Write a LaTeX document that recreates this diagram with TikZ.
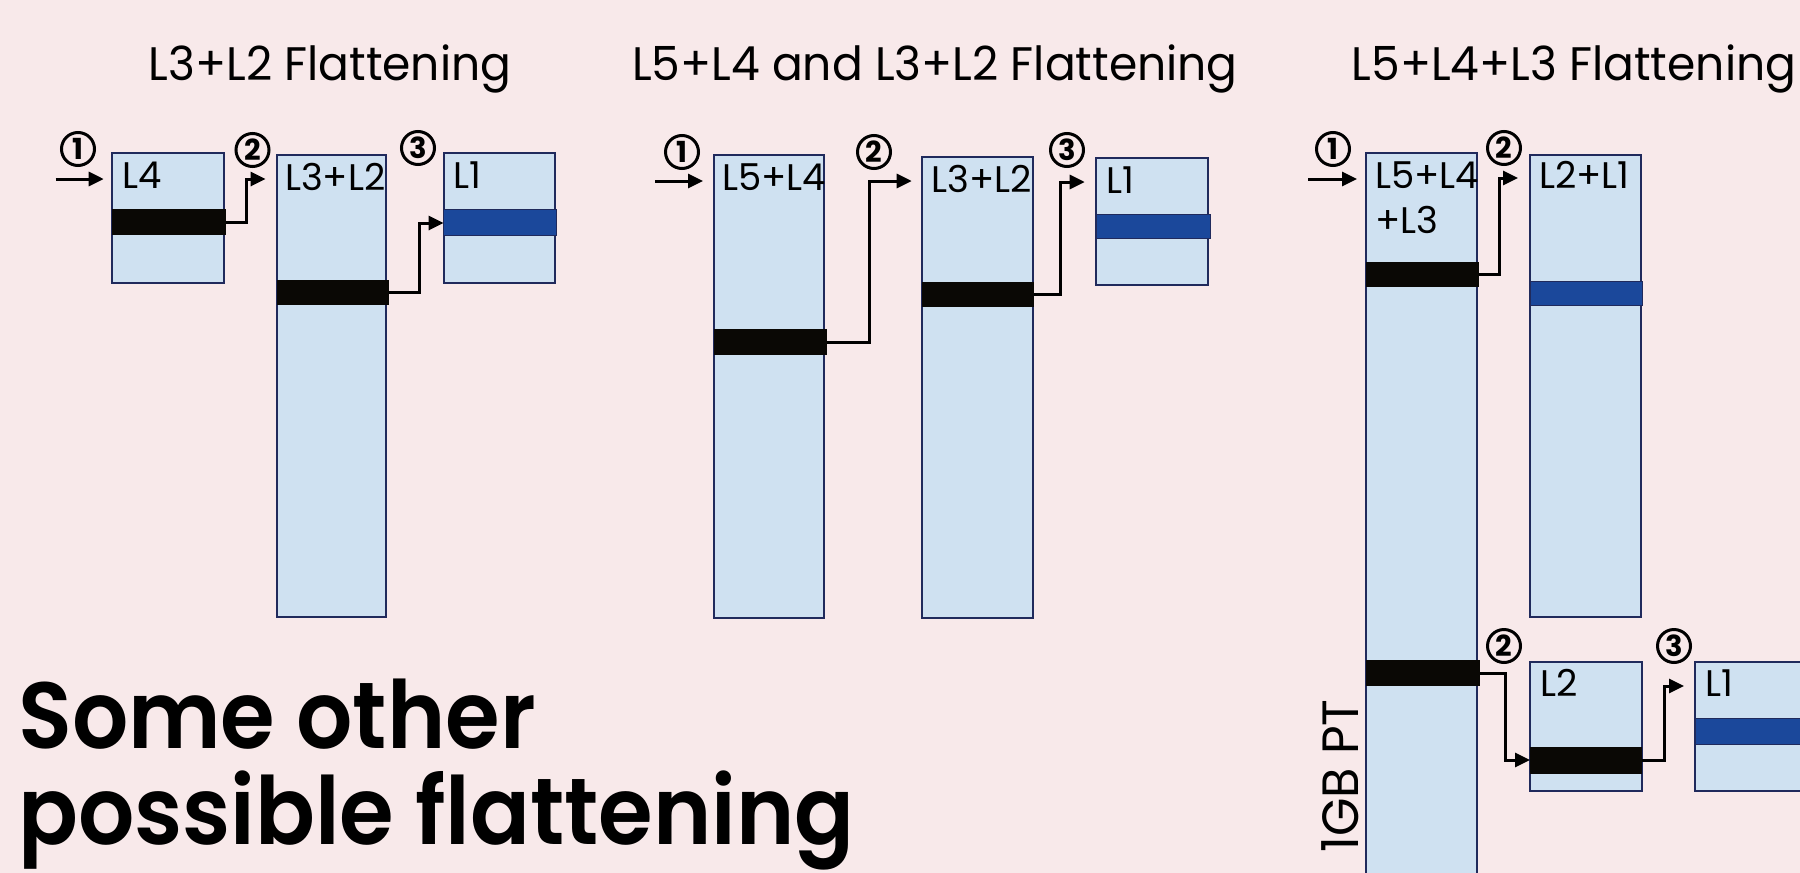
\documentclass[tikz,border=0pt]{standalone}
\usepackage{fontspec}
\setmainfont{Poppins}
\newfontfamily\thinfont{Poppins}
\newfontfamily\headfont[FakeStretch=0.97]{Poppins}
\newfontfamily\capfont[FakeStretch=0.94]{Poppins SemiBold}
\usetikzlibrary{arrows.meta,calc}

\definecolor{bgpink}{RGB}{248,233,234}
\definecolor{tablefill}{RGB}{207,225,241}
\definecolor{tableedge}{RGB}{32,42,92}
\definecolor{entryblue}{RGB}{27,72,155}
\definecolor{entryblack}{RGB}{10,8,5}

\tikzset{
  pagetable/.style={draw=tableedge, fill=tablefill, line width=2pt,
    anchor=north west, inner sep=0pt, outer sep=0pt},
  entrybar/.style={anchor=north west, inner sep=0pt, outer sep=0pt, fill=entryblack},
  leafbar/.style={entrybar, fill=entryblue, draw=tableedge, line width=0.8pt},
  boxtext/.style={anchor=base west, inner sep=0pt, text=black, align=left,
    font=\thinfont\fontsize{37}{45}\selectfont},
  headtext/.style={anchor=base, inner sep=0pt,
    font=\headfont\fontsize{47}{50}\selectfont},
  stepmark/.style={circle, draw=black, line width=3pt, minimum size=33pt,
    inner sep=0pt, font=\bfseries\fontsize{29}{29}\selectfont},
  link/.style={draw=black, line width=3pt, -{Triangle[length=15pt,width=14pt]}},
}

% label set in the top-left corner of a table, cut off at the table's edge
\newcommand\tablelabel[5]{%
  \begin{scope}
    \clip (#2.north west) rectangle (#2.south east);
    \node[boxtext] (#1) at ($(#2.north west)+(#3,#4)$) {#5};
  \end{scope}}

\begin{document}
\begin{tikzpicture}[x=1pt, y=-1pt]
  \useasboundingbox (0,0) rectangle (1800,873);
  \fill[bgpink] (0,0) rectangle (1800,873);
  \clip (0,0) rectangle (1800,873);

  % ---------- headings ----------
  \node[headtext] (ha) at (330,80) {L3+L2 Flattening};
  \node[headtext] (hb) at (935,80) {L5+L4 and L3+L2 Flattening};
  \node[headtext] (hc) at (1574,80) {L5+L4+L3 Flattening};

  % ---------- panel A: L3+L2 flattening ----------
  \node[pagetable, minimum width=112pt, minimum height=130pt] (a1) at (112,153) {};
  \node[pagetable, minimum width=109pt, minimum height=462pt] (a2) at (277,155) {};
  \node[pagetable, minimum width=111pt, minimum height=130pt] (a3) at (443.5,153) {};
  \node[entrybar, minimum width=114pt, minimum height=26pt] (a1e) at (112,209) {};
  \node[entrybar, minimum width=111.5pt, minimum height=25pt] (a2e) at (277,280) {};
  \node[leafbar, minimum width=113pt, minimum height=26pt] (a3e) at (443.5,209) {};
  \tablelabel{a1t}{a1}{10.5}{35}{L4}
  \tablelabel{a2t}{a2}{8}{35}{L3+L2}
  \tablelabel{a3t}{a3}{10}{35}{L1}

  \coordinate (ain) at (55.5,179);
  \coordinate (a2in) at (265.6,179);
  \coordinate (a3in) at (443.6,223);
  \draw[link] (ain) -- (103.7,179);
  \draw[link] (a1e.east) -- ++(20.5,0) |- (a2in);
  \draw[link] (a2e.east) -- ++(30.5,0) |- (a3in);
  \node[stepmark] (as1) at (78,149) {1};
  \node[stepmark] (as2) at (252.5,150) {2};
  \node[stepmark] (as3) at (418,148) {3};

  % ---------- panel B: L5+L4 and L3+L2 flattening ----------
  \node[pagetable, minimum width=110pt, minimum height=463pt] (b1) at (714,155) {};
  \node[pagetable, minimum width=111pt, minimum height=461pt] (b2) at (922,157) {};
  \node[pagetable, minimum width=112pt, minimum height=127pt] (b3) at (1096,158) {};
  \node[entrybar, minimum width=112.5pt, minimum height=26pt] (b1e) at (714,329) {};
  \node[entrybar, minimum width=112pt, minimum height=25pt] (b2e) at (922,282) {};
  \node[leafbar, minimum width=114pt, minimum height=24pt] (b3e) at (1096,214) {};
  \tablelabel{b1t}{b1}{8}{35}{L5+L4}
  \tablelabel{b2t}{b2}{9.5}{35}{L3+L2}
  \tablelabel{b3t}{b3}{10}{35}{L1}

  \coordinate (bin) at (655,181);
  \coordinate (b2in) at (911.7,181);
  \coordinate (b3in) at (1084.7,182);
  \draw[link] (bin) -- (703,181);
  \draw[link] (b1e.east) -- ++(42.5,0) |- (b2in);
  \draw[link] (b2e.east) -- ++(26,0) |- (b3in);
  \node[stepmark] (bs1) at (682,152) {1};
  \node[stepmark] (bs2) at (874,152) {2};
  \node[stepmark] (bs3) at (1067,150) {3};

  % ---------- panel C: L5+L4+L3 flattening ----------
  \node[pagetable, minimum width=111pt, minimum height=760pt] (c1) at (1366,153) {};
  \node[pagetable, minimum width=111pt, minimum height=462pt] (c2) at (1530,155) {};
  \node[pagetable, minimum width=112pt, minimum height=129pt] (c3) at (1530,662) {};
  \node[pagetable, minimum width=130pt, minimum height=129pt] (c4) at (1695,662) {};
  \node[entrybar, minimum width=113pt, minimum height=25pt] (c1e) at (1366,262) {};
  \node[entrybar, minimum width=114pt, minimum height=26pt] (c1f) at (1366,660) {};
  \node[leafbar, minimum width=112pt, minimum height=24pt] (c2e) at (1530,281) {};
  \node[entrybar, minimum width=112pt, minimum height=27pt] (c3e) at (1530,747) {};
  \node[leafbar, minimum width=130pt, minimum height=26pt] (c4e) at (1695,718) {};
  \tablelabel{c1t}{c1}{9}{80}{L5+L4\\+L3}
  \tablelabel{c2t}{c2}{9}{33}{L2+L1}
  \tablelabel{c3t}{c3}{10}{34}{L2}
  \tablelabel{c4t}{c4}{10}{34}{L1}
  \node[anchor=center, rotate=90, inner sep=0pt,
    font=\headfont\fontsize{51}{51}\selectfont] (cpt) at (1340,776) {1GB PT};

  \coordinate (cin) at (1308,179);
  \coordinate (c2in) at (1518,178);
  \coordinate (c3in) at (1530,760);
  \coordinate (c4in) at (1684,686);
  \draw[link] (cin) -- (1357,179);
  \draw[link] (c1e.east) -- ++(20,0) |- (c2in);
  \draw[link] (c1f.east) -- ++(25,0) |- (c3in);
  \draw[link] (c3e.east) -- ++(22,0) |- (c4in);
  \node[stepmark] (cs1) at (1333,149) {1};
  \node[stepmark] (cs2) at (1504,148) {2};
  \node[stepmark] (cs3) at (1504,646) {2};
  \node[stepmark] (cs4) at (1674,646) {3};

  % ---------- caption ----------
  \node[anchor=base west, inner sep=0pt, align=left,
    font=\capfont\fontsize{94}{96}\selectfont] (cap) at (18,844)
    {Some other\\possible flattening};
\end{tikzpicture}
\end{document}
